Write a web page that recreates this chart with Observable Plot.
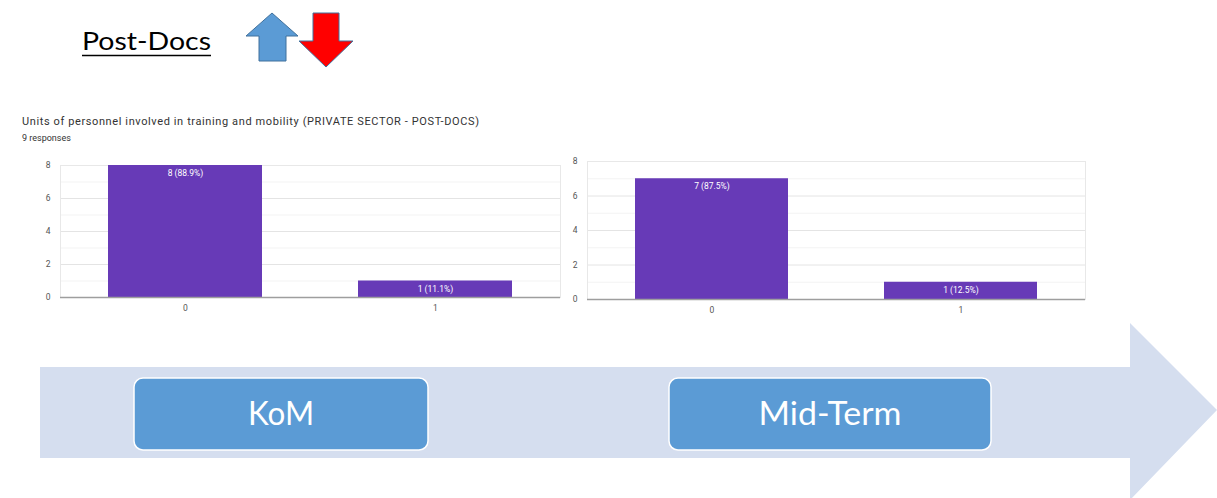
<!DOCTYPE html>
<html>
<head>
<meta charset="utf-8">
<script src="https://cdn.jsdelivr.net/npm/d3@7"></script>
<script src="https://cdn.jsdelivr.net/npm/@observablehq/plot@0.6"></script>
<style>
  html, body { margin: 0; padding: 0; background: #fff; }
  #slide { position: relative; width: 1217px; height: 498px; overflow: hidden; background: #fff; }
  #slide > svg { position: absolute; }
</style>
</head>
<body>
<div id="slide"></div>
<script>
// ---- data ----
const categories = ["0", "1"];
const komCounts = [8, 1];
const komLabels = ["8 (88.9%)", "1 (11.1%)"];
const midCounts = [7, 1];
const midLabels = ["7 (87.5%)", "1 (12.5%)"];
const yMajorTicks = [0, 2, 4, 6, 8];
const yMinorTicks = [1, 3, 5, 7];
const pageTitle = "Post-Docs";
const chartTitle = "Units of personnel involved in training and mobility (PRIVATE SECTOR - POST-DOCS)";
const chartSubtitle = "9 responses";
const stageLabels = ["KoM", "Mid-Term"];

const slide = document.getElementById("slide");

// ---- background slide decorations ----
const bg = d3.create("svg").attr("width", 1217).attr("height", 498).style("left", "0px").style("top", "0px");

// timeline arrow
bg.append("path")
  .attr("d", "M40,367 L1130,367 L1130,323 L1217,410 L1130,500 L1130,458 L40,458 Z")
  .attr("fill", "#D5DEEF");

// stage boxes
const boxes = [{x: 134, w: 294, label: stageLabels[0], tl: 66}, {x: 669, w: 322, label: stageLabels[1], tl: 143}];
for (const b of boxes) {
  bg.append("rect").attr("x", b.x).attr("y", 378).attr("width", b.w).attr("height", 72)
    .attr("rx", 9).attr("fill", "#5B9BD5").attr("stroke", "#fff").attr("stroke-width", 1.5);
  bg.append("text").attr("x", b.x + b.w / 2).attr("y", 425).attr("text-anchor", "middle")
    .attr("font-family", "Lato, 'Open Sans', sans-serif").attr("font-size", 33).attr("fill", "#fff")
    .attr("textLength", b.tl).attr("lengthAdjust", "spacingAndGlyphs")
    .text(b.label);
}

// page title
bg.append("text").attr("x", 82).attr("y", 50)
  .attr("font-family", "Lato, 'Open Sans', sans-serif").attr("font-size", 25).attr("fill", "#000")
  .attr("textLength", 129).attr("lengthAdjust", "spacingAndGlyphs")
  .text(pageTitle);
bg.append("line").attr("x1", 82).attr("x2", 211).attr("y1", 55.5).attr("y2", 55.5)
  .attr("stroke", "#000").attr("stroke-width", 1.4);

// up / down arrows
bg.append("path")
  .attr("d", "M272,13 L298,36 L286,36 L286,61 L259,61 L259,36 L246,36 Z")
  .attr("fill", "#5B9BD5").attr("stroke", "#41719C").attr("stroke-width", 1);
bg.append("path")
  .attr("d", "M313,13 L339,13 L339,41 L353,41 L326,67 L299,41 L313,41 Z")
  .attr("fill", "#FF0000").attr("stroke", "#41719C").attr("stroke-width", 1);

// google forms chart title
bg.append("text").attr("x", 22).attr("y", 125)
  .attr("font-family", "Roboto, sans-serif").attr("font-size", 11).attr("fill", "#333")
  .attr("textLength", 457).attr("lengthAdjust", "spacing")
  .text(chartTitle);
bg.append("text").attr("x", 22).attr("y", 141)
  .attr("font-family", "Roboto, sans-serif").attr("font-size", 9).attr("fill", "#333")
  .text(chartSubtitle);

slide.appendChild(bg.node());

// ---- charts ----
function chart(counts, labels, opts) {
  const data = categories.map((c, i) => ({cat: c, n: counts[i], label: labels[i]}));
  const svg = Plot.plot({
    width: opts.width,
    height: opts.height,
    marginLeft: opts.marginLeft,
    marginRight: opts.marginRight,
    marginTop: opts.marginTop,
    marginBottom: opts.marginBottom,
    style: {fontFamily: "Roboto, sans-serif", fontSize: "8.5px", color: "#555", background: "transparent", overflow: "visible"},
    x: {domain: categories, paddingInner: 0.384, paddingOuter: 0.192, label: null, tickSize: 0, tickPadding: 7},
    y: {domain: [0, 8], ticks: yMajorTicks, label: null, tickSize: 0, tickPadding: 10},
    marks: [
      Plot.ruleY(yMinorTicks, {stroke: "#f3f3f3"}),
      Plot.ruleY(yMajorTicks, {stroke: "#e4e4e4"}),
      Plot.frame({stroke: "#e8e8e8"}),
      Plot.barY(data, {x: "cat", y: "n", fill: "#673AB7"}),
      Plot.ruleY([0], {stroke: "#9e9e9e", strokeWidth: 1.5}),
      Plot.text(data, {x: "cat", y: "n", text: "label", fill: "#fff", dy: 8, fontSize: 8.5})
    ]
  });
  svg.style.position = "absolute";
  svg.style.left = opts.left + "px";
  svg.style.top = opts.top + "px";
  return svg;
}

slide.appendChild(chart(komCounts, komLabels, {
  left: 0, top: 150, width: 570, height: 170,
  marginLeft: 60, marginRight: 10, marginTop: 15, marginBottom: 23
}));
slide.appendChild(chart(midCounts, midLabels, {
  left: 560, top: 146, width: 535, height: 176,
  marginLeft: 27, marginRight: 10, marginTop: 15, marginBottom: 23
}));
</script>
</body>
</html>
